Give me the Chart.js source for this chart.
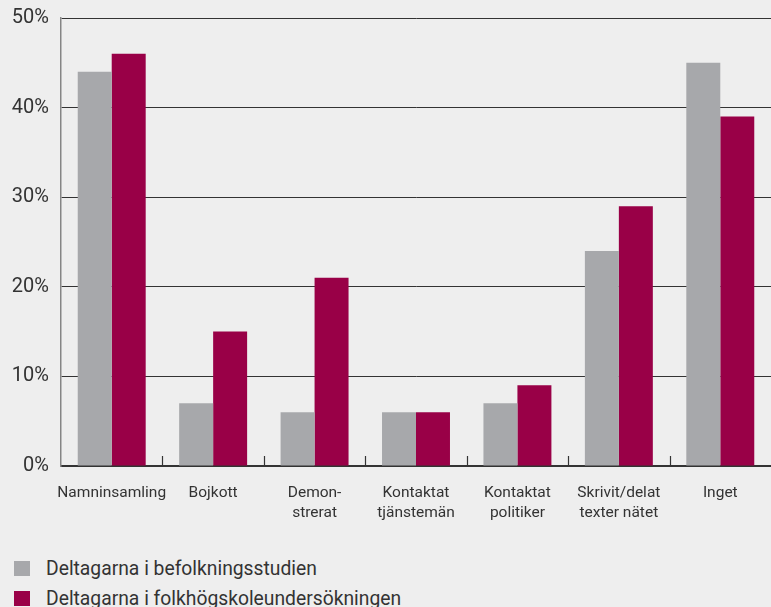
<!DOCTYPE html>
<html>
<head>
<meta charset="utf-8">
<script src="https://cdn.jsdelivr.net/npm/chart.js@4/dist/chart.umd.min.js"></script>
<style>
  html, body { margin:0; padding:0; background:#eeeeee; width:771px; height:607px; overflow:hidden; }
  #wrap { position:absolute; left:0; top:0; width:771px; height:541px; }
  #legend { position:absolute; left:14px; top:553px; font-family:Roboto, "Open Sans", sans-serif; font-size:19.3px; color:#333; }
  .item { display:flex; align-items:center; height:30px; }
  .sw { width:16px; height:15px; margin-right:16px; }
</style>
</head>
<body>
<div id="wrap"><canvas id="c"></canvas></div>
<div id="legend"></div>
<script>
const categories = [
  "Namninsamling",
  "Bojkott",
  ["Demon-", "strerat"],
  ["Kontaktat", "tjänstemän"],
  ["Kontaktat", "politiker"],
  ["Skrivit/delat", "texter nätet"],
  "Inget"
];
const seriesNames = ["Deltagarna i befolkningsstudien", "Deltagarna i folkhögskoleundersökningen"];
const befolkning = [44, 7, 6, 6, 7, 24, 45];
const folkhogskola = [46, 15, 21, 6, 9, 29, 39];
const yTicks = [0, 10, 20, 30, 40, 50];
const colors = ["#a7a8ab", "#990047"];

const betweenTicks = {
  id: 'betweenTicks',
  beforeDatasetsDraw(chart) {
    const x = chart.scales.x, ctx = chart.ctx, b = chart.chartArea.bottom;
    ctx.save();
    ctx.strokeStyle = '#333';
    ctx.lineWidth = 1.2;
    for (let i = 1; i < categories.length; i++) {
      const px = Math.round((x.getPixelForValue(i - 1) + x.getPixelForValue(i)) / 2) + 0.5;
      ctx.beginPath();
      ctx.moveTo(px, b);
      ctx.lineTo(px, b - 10);
      ctx.stroke();
    }
    ctx.restore();
  }
};

const chart = new Chart(document.getElementById('c'), {
  type: 'bar',
  data: {
    labels: categories,
    datasets: [
      { label: seriesNames[0], data: befolkning, backgroundColor: colors[0] },
      { label: seriesNames[1], data: folkhogskola, backgroundColor: colors[1] }
    ]
  },
  options: {
    responsive: true,
    maintainAspectRatio: false,
    animation: false,
    layout: { padding: { top: 18, right: 0, left: 0, bottom: 0 } },
    datasets: { bar: { categoryPercentage: 0.67, barPercentage: 1.0 } },
    plugins: { legend: { display: false }, tooltip: { enabled: false } },
    scales: {
      x: {
        grid: { display: false, drawTicks: false },
        border: { display: true, color: '#333', width: 2 },
        ticks: { color: '#333', padding: 17, font: { family: 'Roboto', size: 15.5, lineHeight: 1.3 }, maxRotation: 0, autoSkip: false },
        afterFit(s) { s.height = 75; s.paddingLeft = 0; s.paddingRight = 0; }
      },
      y: {
        min: 0, max: 50,
        afterBuildTicks(s) { s.ticks = yTicks.map(v => ({ value: v })); },
        grid: { color: '#333', lineWidth: 1, drawTicks: false },
        border: { display: true, color: '#858585', width: 1.5 },
        ticks: { color: '#333', padding: 12, font: { family: 'Roboto', size: 20 }, callback: v => v + '%' },
        afterFit(s) { s.width = 61; s.paddingTop = 0; s.paddingBottom = 0; }
      }
    }
  },
  plugins: [betweenTicks]
});

const leg = document.getElementById('legend');
seriesNames.forEach((n, i) => {
  const d = document.createElement('div'); d.className = 'item';
  const s = document.createElement('div'); s.className = 'sw'; s.style.background = colors[i];
  const t = document.createElement('span'); t.textContent = n;
  d.appendChild(s); d.appendChild(t); leg.appendChild(d);
});
</script>
</body>
</html>
